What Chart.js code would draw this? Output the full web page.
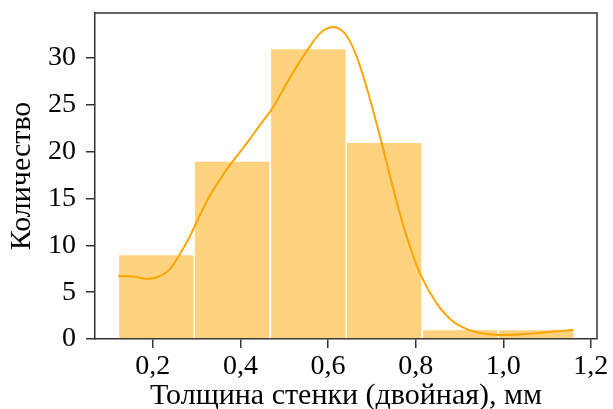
<!DOCTYPE html>
<html>
<head>
<meta charset="utf-8">
<script src="https://cdn.jsdelivr.net/npm/chart.js@4.4.0/dist/chart.umd.min.js"></script>
<style>
  html, body { margin: 0; padding: 0; background: #fff; }
  #wrap { width: 613px; height: 409px; }
</style>
</head>
<body>
<div id="wrap"><canvas id="hist_chart" width="613" height="409"></canvas></div>
<script>
// histogram bins (centres) and counts
let binCenters = [0.208, 0.381, 0.555, 0.728, 0.902, 1.075]
let binCounts = [9, 19, 31, 21, 1, 1]

// kde curve
let kdeX = [0.121, 0.147, 0.189, 0.215, 0.238, 0.261, 0.284, 0.307, 0.330, 0.353, 0.375,
    0.398, 0.421, 0.444, 0.474, 0.513, 0.551, 0.581, 0.611, 0.642, 0.665, 0.691,
    0.722, 0.749, 0.779, 0.810, 0.848, 0.886, 0.920, 0.947, 1.008, 1.069, 1.160]
let kdeY = [6.7, 6.7, 6.4, 6.7, 7.4, 9.0, 10.9, 13.2, 15.3, 17.0, 18.5,
    19.9, 21.3, 22.8, 24.7, 27.9, 30.7, 32.6, 33.3, 32.4, 30.2, 26.4,
    21.0, 16.0, 11.0, 7.0, 3.8, 1.85, 1.0, 0.65, 0.43, 0.6, 1.0]

let xTicks = [0.2, 0.4, 0.6, 0.8, 1.0, 1.2]
let xTickLabels = ['0,2', '0,4', '0,6', '0,8', '1,0', '1,2']
let yTicks = [0, 5, 10, 15, 20, 25, 30]
let yTickLabels = ['0', '5', '10', '15', '20', '25', '30']

let spineColor = '#333'
let family = '"Liberation Serif", "DejaVu Serif", serif'
let tickFont = { family: family, size: 28 }
let titleFont = { family: family, size: 30, lineHeight: 1 }

// matplotlib style frame: top and right spines
let framePlugin = {
    id: 'frame',
    afterDraw(chart) {
        let a = chart.chartArea
        let c = chart.ctx
        c.save()
        c.strokeStyle = spineColor
        c.lineWidth = 1.5
        c.beginPath()
        c.moveTo(a.left, a.top)
        c.lineTo(a.right, a.top)
        c.lineTo(a.right, a.bottom)
        c.stroke()
        c.restore()
    }
}

let ctx = document.querySelector('#hist_chart').getContext('2d')

let chart = new Chart(ctx, {
    type: 'bar',
    data: {
        datasets: [{
            type: 'line',
            data: kdeX.map((x, i) => ({ x: x, y: kdeY[i] })),
            borderColor: '#ffa500',
            borderWidth: 2,
            pointRadius: 0,
            cubicInterpolationMode: 'monotone',
            fill: false,
            order: 0
        }, {
            type: 'bar',
            data: binCenters.map((x, i) => ({ x: x, y: binCounts[i] })),
            backgroundColor: 'rgba(255, 165, 0, 0.5)',
            borderColor: '#ffffff',
            borderWidth: 1,
            categoryPercentage: 1,
            barPercentage: 1,
            order: 1
        }]
    },
    options: {
        responsive: false,
        animation: false,
        layout: { padding: { top: 13, right: 16, left: 0, bottom: 0 } },
        plugins: { legend: { display: false }, tooltip: { enabled: false } },
        scales: {
            x: {
                type: 'linear',
                min: 0.068,
                max: 1.214,
                offset: false,
                afterBuildTicks: s => { s.ticks = xTicks.map(v => ({ value: v })) },
                afterFit: s => { s.height = 70; s.paddingLeft = 0; s.paddingRight = 0 },
                ticks: {
                    color: '#000',
                    font: tickFont,
                    padding: 2,
                    maxRotation: 0,
                    callback: (v, i) => xTickLabels[i]
                },
                grid: { offset: false, drawOnChartArea: false, drawTicks: true, tickLength: 9, color: spineColor, lineWidth: 1.5 },
                border: { display: true, color: spineColor, width: 1.5 },
                title: {
                    display: true,
                    text: 'Толщина стенки (двойная), мм',
                    color: '#000',
                    font: titleFont,
                    padding: { top: 0, bottom: -2 }
                }
            },
            y: {
                min: 0,
                max: 34.8,
                afterBuildTicks: s => { s.ticks = yTicks.map(v => ({ value: v })) },
                afterFit: s => { s.width = 95; s.paddingTop = 0; s.paddingBottom = 0 },
                ticks: {
                    color: '#000',
                    font: tickFont,
                    padding: 10,
                    callback: (v, i) => yTickLabels[i]
                },
                grid: { drawOnChartArea: false, drawTicks: true, tickLength: 9, color: spineColor, lineWidth: 1.5 },
                border: { display: true, color: spineColor, width: 1.5 },
                title: {
                    display: true,
                    text: 'Количество',
                    color: '#000',
                    font: titleFont,
                    padding: { top: 7.5, bottom: 0 }
                }
            }
        }
    },
    plugins: [framePlugin]
})
</script>
</body>
</html>
